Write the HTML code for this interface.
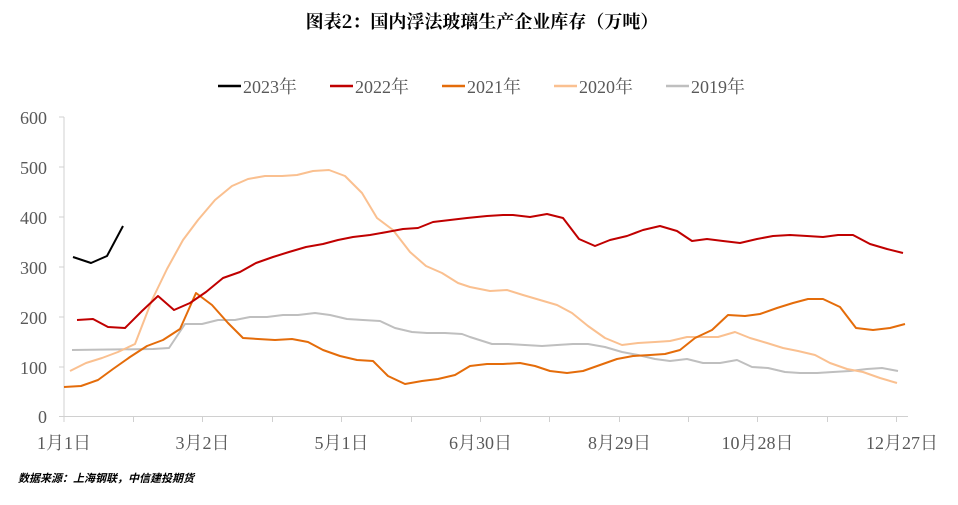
<!DOCTYPE html>
<html><head><meta charset="utf-8"><style>
body{margin:0;background:#fff;}
svg text{font-family:"Liberation Serif","Noto Serif CJK SC",serif;fill:#595959;}
</style></head><body>
<svg width="958" height="500" viewBox="0 0 958 500" xmlns="http://www.w3.org/2000/svg">
<text x="482" y="28" text-anchor="middle" style="font-size:18px;font-weight:bold;fill:#000;font-family:'Noto Serif CJK SC','Noto Sans CJK SC',serif">图表2：国内浮法玻璃生产企业库存（万吨）</text>
<g style="font-size:18px">
<line x1="218" y1="86" x2="241" y2="86" stroke="#000" stroke-width="2.5"/><text x="243" y="93">2023年</text>
<line x1="330" y1="86" x2="353" y2="86" stroke="#c00000" stroke-width="2.5"/><text x="355" y="93">2022年</text>
<line x1="442" y1="86" x2="465" y2="86" stroke="#e46c0a" stroke-width="2.5"/><text x="467" y="93">2021年</text>
<line x1="554" y1="86" x2="577" y2="86" stroke="#fac090" stroke-width="2.5"/><text x="579" y="93">2020年</text>
<line x1="666" y1="86" x2="689" y2="86" stroke="#bfbfbf" stroke-width="2.5"/><text x="691" y="93">2019年</text>
</g>
<g stroke="#d0d0d0" stroke-width="1">
<line x1="64" y1="117" x2="64" y2="417"/>
<line x1="64" y1="416.5" x2="908" y2="416.5"/>
<line x1="59" y1="117" x2="64" y2="117"/><line x1="59" y1="167" x2="64" y2="167"/><line x1="59" y1="217" x2="64" y2="217"/><line x1="59" y1="267" x2="64" y2="267"/><line x1="59" y1="317" x2="64" y2="317"/><line x1="59" y1="367" x2="64" y2="367"/><line x1="59" y1="416.5" x2="64" y2="416.5"/>
<line x1="64" y1="417" x2="64" y2="422"/><line x1="133.5" y1="417" x2="133.5" y2="422"/><line x1="202.5" y1="417" x2="202.5" y2="422"/><line x1="272.5" y1="417" x2="272.5" y2="422"/><line x1="341.5" y1="417" x2="341.5" y2="422"/><line x1="411.5" y1="417" x2="411.5" y2="422"/><line x1="480.5" y1="417" x2="480.5" y2="422"/><line x1="549.5" y1="417" x2="549.5" y2="422"/><line x1="619.5" y1="417" x2="619.5" y2="422"/><line x1="688.5" y1="417" x2="688.5" y2="422"/><line x1="757.5" y1="417" x2="757.5" y2="422"/><line x1="827.5" y1="417" x2="827.5" y2="422"/><line x1="896.5" y1="417" x2="896.5" y2="422"/>
</g>
<g style="font-size:18px" text-anchor="end">
<text x="47" y="124">600</text><text x="47" y="174">500</text><text x="47" y="224">400</text><text x="47" y="274">300</text><text x="47" y="324">200</text><text x="47" y="374">100</text><text x="47" y="423">0</text>
</g>
<g style="font-size:18px" text-anchor="middle">
<text x="64" y="449">1月1日</text><text x="202.5" y="449">3月2日</text><text x="341.5" y="449">5月1日</text><text x="480.5" y="449">6月30日</text><text x="619.5" y="449">8月29日</text><text x="757.5" y="449">10月28日</text><text x="902" y="449">12月27日</text>
</g>
<g fill="none" stroke-width="2" stroke-linejoin="round">
<polyline stroke="#bfbfbf" points="72,350 153,349 169,348 185,324 202,324 218,320 235,320 250,317 267,317 283,315 298,315 315,313 330,315 347,319 363,320 380,321 395,328 412,332 427,333 445,333 462,334 470,337 492,344 508,344 525,345 542,346 557,345 573,344 588,344 605,347 622,352 638,355 655,359 670,361 687,359 703,363 720,363 737,360 752,367 768,368 785,372 800,373 817,373 833,372 850,371 867,369 882,368 898,371"/>
<polyline stroke="#fac090" points="70,371 86,363 102,358 118,352 135,344 152,300 167,269 183,240 198,220 215,200 232,186 248,179 265,176 282,176 297,175 313,171 329,170 345,176 362,193 377,218 393,230 410,252 426,266 442,273 458,283 470,287 490,291 507,290 523,295 540,300 557,305 572,313 588,326 605,338 622,345 638,343 655,342 670,341 687,337 703,337 718,337 735,332 750,338 767,343 783,348 798,351 815,355 830,363 847,369 863,372 880,378 897,383"/>
<polyline stroke="#e46c0a" points="64,387 81,386 98,380 113,369 130,357 147,346 163,340 180,329 196,293 212,305 228,323 243,338 258,339 275,340 292,339 308,342 323,350 340,356 357,360 373,361 388,376 405,384 422,381 438,379 455,375 470,366 487,364 503,364 520,363 535,366 550,371 567,373 583,371 600,365 617,359 633,356 650,355 665,354 680,350 695,338 712,330 728,315 745,316 760,314 777,308 793,303 808,299 823,299 840,307 856,328 873,330 890,328 905,324"/>
<polyline stroke="#c00000" points="77,320 93,319 108,327 125,328 142,311 158,296 174,310 190,303 206,292 223,278 240,272 256,263 273,257 289,252 306,247 323,244 338,240 353,237 370,235 387,232 403,229 418,228 433,222 450,220 467,218 487,216 503,215 513,215 530,217 547,214 563,218 579,239 595,246 610,240 627,236 643,230 660,226 677,231 692,241 707,239 723,241 740,243 757,239 773,236 790,235 807,236 823,237 838,235 853,235 870,244 887,249 903,253"/>
<polyline stroke="#000" points="73,257 91,263 107,256 123,226"/>
</g>
<text x="18" y="482" style="font-size:11px;font-weight:bold;font-style:italic;fill:#000;font-family:'Noto Sans CJK SC',sans-serif">数据来源：上海钢联，中信建投期货</text>
</svg>
</body></html>
